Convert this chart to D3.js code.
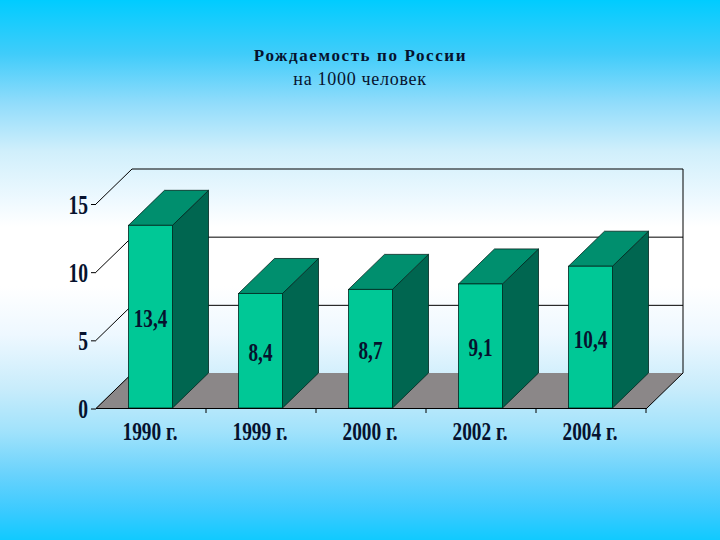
<!DOCTYPE html>
<html lang="ru">
<head>
    <meta charset="utf-8">
    <title>Рождаемость по России</title>
    <script src="https://d3js.org/d3.v7.min.js"></script>
    <style>
        html, body { margin: 0; padding: 0; background: #fff; }
        svg { display: block; }
        text { font-family: "Liberation Serif", serif; fill: #06122e; }
    </style>
</head>
<body>
    <script>
        var categories = ["1990 г.", "1999 г.", "2000 г.", "2002 г.", "2004 г."];
        var values = [13.4, 8.4, 8.7, 9.1, 10.4];
        var valueLabels = ["13,4", "8,4", "8,7", "9,1", "10,4"];
        var yTicks = [0, 5, 10, 15];
        var titleLines = ["Рождаемость по России", "на 1000 человек"];

        var w = 720, h = 540;
        var depthX = 36, depthY = 35;

        var x = d3.scaleBand().domain(categories).range([96, 646]).paddingInner(0.6).paddingOuter(0.3);
        var y = d3.scaleLinear().domain([0, 15]).range([408, 203.5]);

        var svg = d3.select("body").append("svg").attr("width", w).attr("height", h);

        //background gradient
        var grad = svg.append("defs").append("linearGradient")
            .attr("id", "bg").attr("x1", 0).attr("y1", 0).attr("x2", 0).attr("y2", 1);
        [[0, "#00ccff"], [0.1, "#40ccfa"], [0.19, "#90dcfb"], [0.28, "#d0effb"], [0.37, "#eef9ff"], [0.42, "#ffffff"],
         [0.53, "#ffffff"], [0.62, "#eef8ff"], [0.72, "#c8ecfb"], [0.8, "#a0e2fb"], [0.88, "#68d2fc"], [0.95, "#38caff"], [1, "#10caff"]].forEach(function (s) {
            grad.append("stop").attr("offset", s[0]).attr("stop-color", s[1]);
        });
        svg.append("rect").attr("width", w).attr("height", h).attr("fill", "url(#bg)");

        //title
        svg.append("text").attr("x", 360.5).attr("y", 61).attr("text-anchor", "middle")
            .style("font-size", "17px").style("font-weight", "bold").style("letter-spacing", "1.6px")
            .text(titleLines[0]);
        svg.append("text").attr("x", 360).attr("y", 85).attr("text-anchor", "middle")
            .style("font-size", "18px").style("letter-spacing", "0.7px")
            .text(titleLines[1]);

        var x0 = x.range()[0], x1 = x.range()[1] + 1;
        var y0 = y(0);

        function pts(a) { return a.map(function (p) { return p.join(","); }).join(" "); }

        //floor
        svg.append("polygon")
            .attr("points", pts([[x0, y0], [x0 + depthX, y0 - depthY], [x1 + depthX, y0 - depthY], [x1, y0]]))
            .attr("fill", "#8b8788").attr("stroke", "none");

        //grid on the back wall and diagonals on the side wall
        var grid = svg.append("g").attr("stroke", "#000").attr("stroke-width", 1).attr("fill", "none");
        yTicks.forEach(function (t) {
            var yy = y(t) + 0.5;
            grid.append("line").attr("x1", x0).attr("y1", yy)
                .attr("x2", x0 + depthX).attr("y2", yy - depthY);
            if (t > 0) {
                grid.append("line").attr("x1", x0 + depthX).attr("y1", yy - depthY)
                    .attr("x2", x1 + depthX).attr("y2", yy - depthY);
            }
        });
        grid.append("polyline")
            .attr("points", pts([[x1 + depthX, y(15) - depthY + 0.5], [x1 + depthX, y0 - depthY], [x1, y0]]));

        //bars
        var bars = svg.selectAll("g.bar").data(values).enter().append("g").attr("class", "bar");
        var bw = x.bandwidth();
        bars.each(function (d, i) {
            var g = d3.select(this), bx = x(categories[i]) - 0.5, by = y(d);
            g.append("polygon")
                .attr("points", pts([[bx + bw, by], [bx + bw + depthX, by - depthY], [bx + bw + depthX, y0 - depthY], [bx + bw, y0]]))
                .attr("fill", "#006650").attr("stroke", "#00261e").attr("stroke-width", 0.8);
            g.append("polygon")
                .attr("points", pts([[bx, by], [bx + depthX, by - depthY], [bx + bw + depthX, by - depthY], [bx + bw, by]]))
                .attr("fill", "#008f6e").attr("stroke", "#00261e").attr("stroke-width", 0.8);
            g.append("rect").attr("x", bx).attr("y", by).attr("width", bw).attr("height", y0 - by)
                .attr("fill", "#00c896").attr("stroke", "#00261e").attr("stroke-width", 0.8);
        });

        //stretched narrow bold text, like the original picture
        function narrow(tx, ty, s, size, sx, sy, anchor) {
            svg.append("text")
                .attr("transform", "translate(" + tx + "," + ty + ") scale(" + sx + "," + sy + ")")
                .attr("text-anchor", anchor)
                .style("font-size", size + "px").style("font-weight", "bold")
                .text(s);
        }

        //value labels sit in the middle of the bar front
        values.forEach(function (d, i) {
            var cx = x(categories[i]) + bw / 2 - 0.5;
            narrow(cx, y(d / 2) + 10.5, valueLabels[i], 22, 0.87, 1.12, "middle");
        });

        //axes
        var yAxis = d3.axisLeft(y).tickValues(yTicks).tickSize(5).tickPadding(3);
        var yg = svg.append("g").attr("transform", "translate(" + x0 + ",0.5)").call(yAxis);
        yg.select(".domain").remove();
        yg.selectAll("text").remove();
        yTicks.forEach(function (t) {
            narrow(88, y(t) + 10, String(t), 23, 0.85, 1.15, "end");
        });

        svg.append("line").attr("x1", x0).attr("x2", x1).attr("y1", y0 + 0.5).attr("y2", y0 + 0.5)
            .attr("stroke", "#000");
        categories.forEach(function (c, i) {
            var tx = x(c) + bw / 2 + x.step() / 2;
            svg.append("line").attr("x1", tx).attr("x2", tx).attr("y1", y0).attr("y2", y0 + 5).attr("stroke", "#000");
            narrow(x(c) + bw / 2 - 1, 440, c, 22, 0.88, 1.15, "middle");
        });
    </script>
</body>
</html>
